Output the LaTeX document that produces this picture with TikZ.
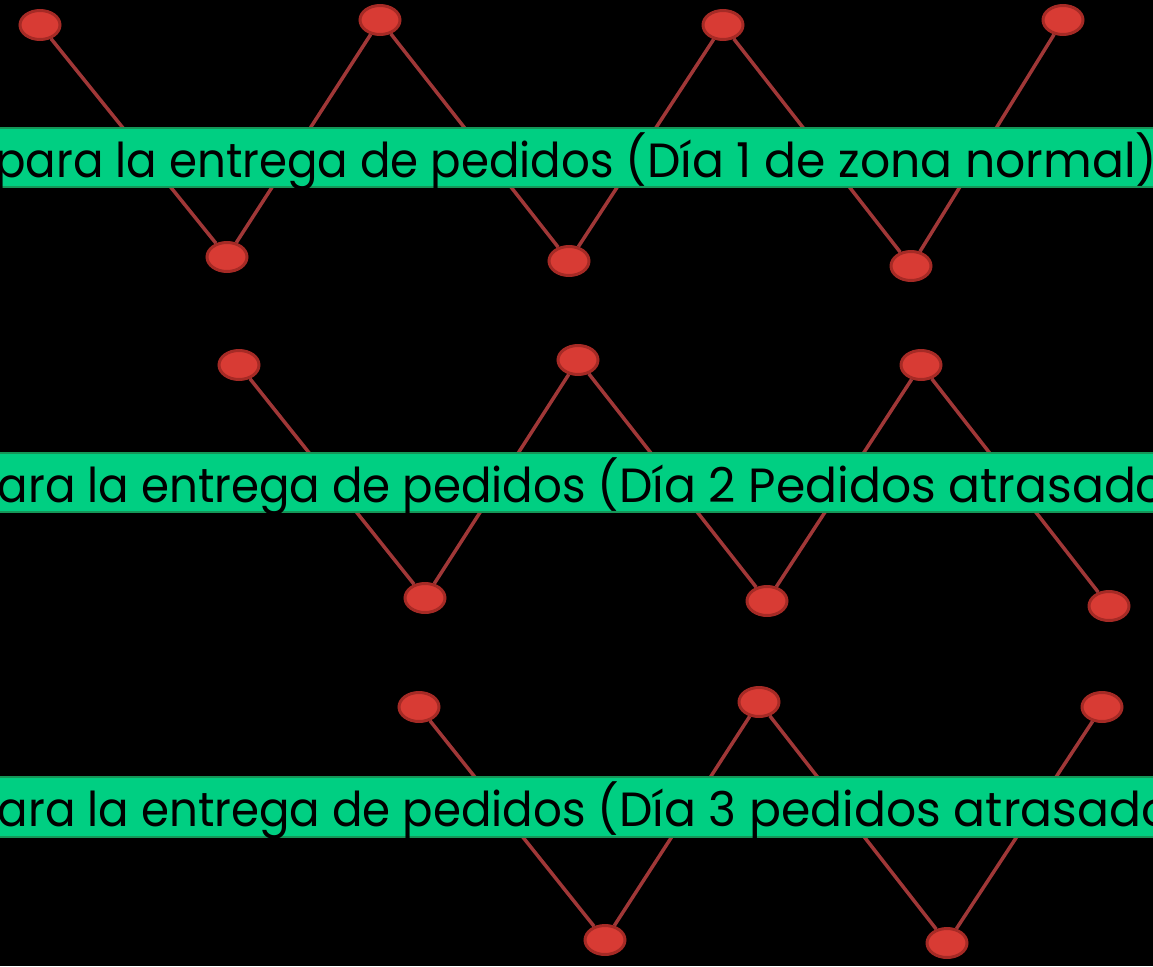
\documentclass[tikz,border=0pt]{standalone}
\usepackage{fontspec}
\setmainfont{Poppins}
\usetikzlibrary{shapes.geometric}
\definecolor{bandfill}{RGB}{0,207,130}
\definecolor{bandline}{RGB}{22,150,88}
\definecolor{dotfill}{RGB}{216,59,52}
\definecolor{dotline}{RGB}{165,42,37}
\definecolor{wire}{RGB}{160,55,55}
\tikzset{
  dot/.style={ellipse,draw=dotline,fill=dotfill,line width=2pt,minimum width=41pt,minimum height=30pt,inner sep=0pt},
  wireline/.style={draw=wire,line width=3.5pt},
  band/.style={fill=bandfill,draw=bandline,line width=2.5pt},
  bandtext/.style={anchor=base west,inner sep=0pt,font=\fontsize{48}{56}\selectfont,text=black}
}
\newcommand{\bandstr}[2]{\scalebox{0.94}[1]{#1}\scalebox{0.985}[1]{#2}}
\begin{document}
\begin{tikzpicture}[x=1pt,y=-1pt]
\useasboundingbox (0,0) rectangle (1153,966);
\clip (0,0) rectangle (1153,966);
\fill[black] (0,0) rectangle (1153,966);
% row 1
\node[dot] (a1) at (40,25) {};
\node[dot] (a2) at (227,257) {};
\node[dot] (a3) at (380,20) {};
\node[dot] (a4) at (569,261) {};
\node[dot] (a5) at (723,25) {};
\node[dot] (a6) at (911,266) {};
\node[dot] (a7) at (1063,20) {};
% row 2
\node[dot] (b1) at (239,365) {};
\node[dot] (b2) at (425,598) {};
\node[dot] (b3) at (578,360) {};
\node[dot] (b4) at (767,601) {};
\node[dot] (b5) at (921,365) {};
\node[dot] (b6) at (1109,606) {};
% row 3
\node[dot] (c1) at (419,707) {};
\node[dot] (c2) at (605,940) {};
\node[dot] (c3) at (759,702) {};
\node[dot] (c4) at (947,943) {};
\node[dot] (c5) at (1102,707) {};
% connectors
\draw[wireline] (a1) -- (a2) -- (a3) -- (a4) -- (a5) -- (a6) -- (a7);
\draw[wireline] (b1) -- (b2) -- (b3) -- (b4) -- (b5) -- (b6);
\draw[wireline] (c1) -- (c2) -- (c3) -- (c4) -- (c5);
% redraw dots on top of the connectors
\foreach \n in {a1,a2,a3,a4,a5,a6,a7,b1,b2,b3,b4,b5,b6,c1,c2,c3,c4,c5}{
  \path[fill=dotfill,draw=dotline,line width=2pt] (\n.center) ellipse [x radius=19.5pt,y radius=14pt];
}
% bands
\draw[band] (-10,128) rectangle (1170,187);
\draw[band] (-10,453) rectangle (1170,512);
\draw[band] (-10,777) rectangle (1170,837);
\node[bandtext] (t1) at (-5,177) {\bandstr{para la entrega de pedidos }{(Día 1 de zona normal)}};
\node[bandtext] (t2) at (-33,502) {\bandstr{para la entrega de pedidos }{(Día 2 Pedidos atrasados)}};
\node[bandtext] (t3) at (-33,826) {\bandstr{para la entrega de pedidos }{(Día 3 pedidos atrasados)}};
\end{tikzpicture}
\end{document}
